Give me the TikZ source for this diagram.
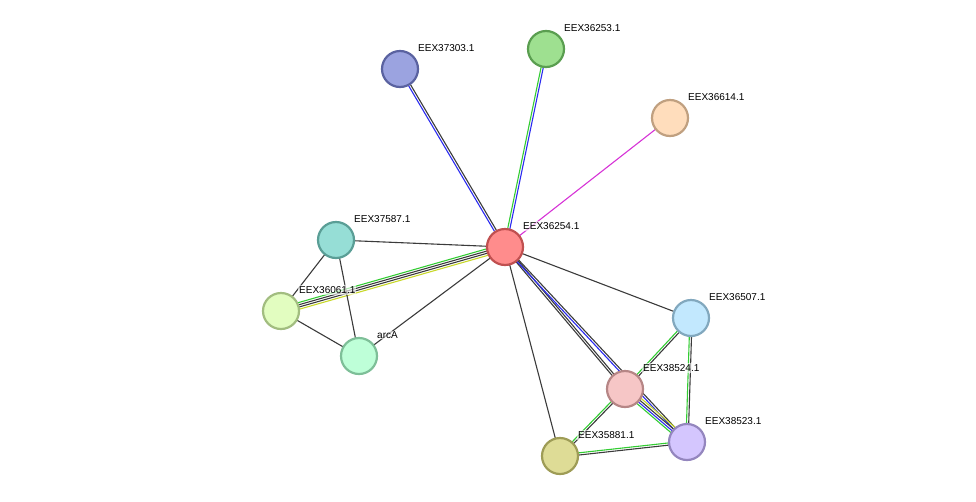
\documentclass[tikz,border=0pt]{standalone}
\usepackage{fontspec}
\setmainfont{Liberation Sans}
\usetikzlibrary{calc}
\definecolor{eb}{HTML}{3B3B3B}
\definecolor{eblue}{HTML}{2B2BF0}
\definecolor{egreen}{HTML}{33CC33}
\definecolor{eyel}{HTML}{C8D82A}
\definecolor{emag}{HTML}{D633D6}
\tikzset{
 prot/.style={circle,minimum size=36pt,inner sep=0pt,line width=2.2pt},
 lbl/.style={anchor=west,inner sep=1pt,font=\fontsize{10}{12}\selectfont,fill=white,fill opacity=0.6,text opacity=1},
 ed/.style={line width=1.1pt}
}
\newcommand{\medge}[4]{%
 \foreach \c [count=\i] in {#4}{%
  \pgfmathsetmacro{\off}{(\i-(#3+1)/2)*2.2}%
  \draw[ed,draw=\c] ($(#1)!\off pt!90:(#2)$) -- ($(#2)!\off pt!-90:(#1)$);}}
\begin{document}
\begin{tikzpicture}[x=1pt,y=-1pt]
\useasboundingbox (0,0) rectangle (976,501);
\coordinate (c) at (505,247);
\coordinate (p1) at (400,69);
\coordinate (p2) at (546,49);
\coordinate (p3) at (670,118);
\coordinate (p4) at (336,240);
\coordinate (p5) at (281,311);
\coordinate (p6) at (359,356);
\coordinate (p7) at (691,318);
\coordinate (p8) at (625,389);
\coordinate (p9) at (687,442);
\coordinate (p10) at (560,456);
\medge{c}{p1}{2}{eb,eblue}
\medge{c}{p2}{2}{eblue,egreen}
\medge{c}{p3}{1}{emag}
\medge{c}{p4}{1}{eb}
\medge{c}{p5}{4}{egreen,eb,eb,eyel}
\medge{c}{p6}{1}{eb}
\medge{c}{p7}{1}{eb}
\medge{c}{p10}{1}{eb}
\medge{c}{p8}{2}{eb,eb}
\medge{c}{p9}{2}{eblue,eb}
\medge{p8}{p9}{4}{egreen,eblue,eb,eyel}
\medge{p4}{p5}{1}{eb}
\medge{p4}{p6}{1}{eb}
\medge{p5}{p6}{1}{eb}
\medge{p7}{p8}{2}{egreen,eb}
\medge{p7}{p9}{2}{egreen,eb}
\medge{p8}{p10}{2}{egreen,eb}
\medge{p10}{p9}{2}{eb,egreen}
\foreach \p/\f/\s/\t in {c/FF8C8C/C05050/EEX36254.1, p1/9BA3E0/5A62A0/EEX37303.1, p2/9EE090/5A9E50/EEX36253.1, p3/FFDDBC/C0A080/EEX36614.1, p4/96DED6/5A9E96/EEX37587.1, p5/E2FDC0/A2BD80/EEX36061.1, p6/BEFFD8/7EBF98/arcA, p7/C2E8FE/82A8BE/EEX36507.1, p8/F6C6C6/B68686/EEX38524.1, p9/D4C6FE/9486BE/EEX38523.1, p10/DEDC96/9E9C56/EEX35881.1}{
 \definecolor{fc}{HTML}{\f}\definecolor{sc}{HTML}{\s}
 \node[prot,fill=fc,draw=sc] (n\p) at (\p) {};
 \node[lbl] (l\p) at ($(\p)+(17,-21)$) {\t};
}
\end{tikzpicture}
\end{document}
